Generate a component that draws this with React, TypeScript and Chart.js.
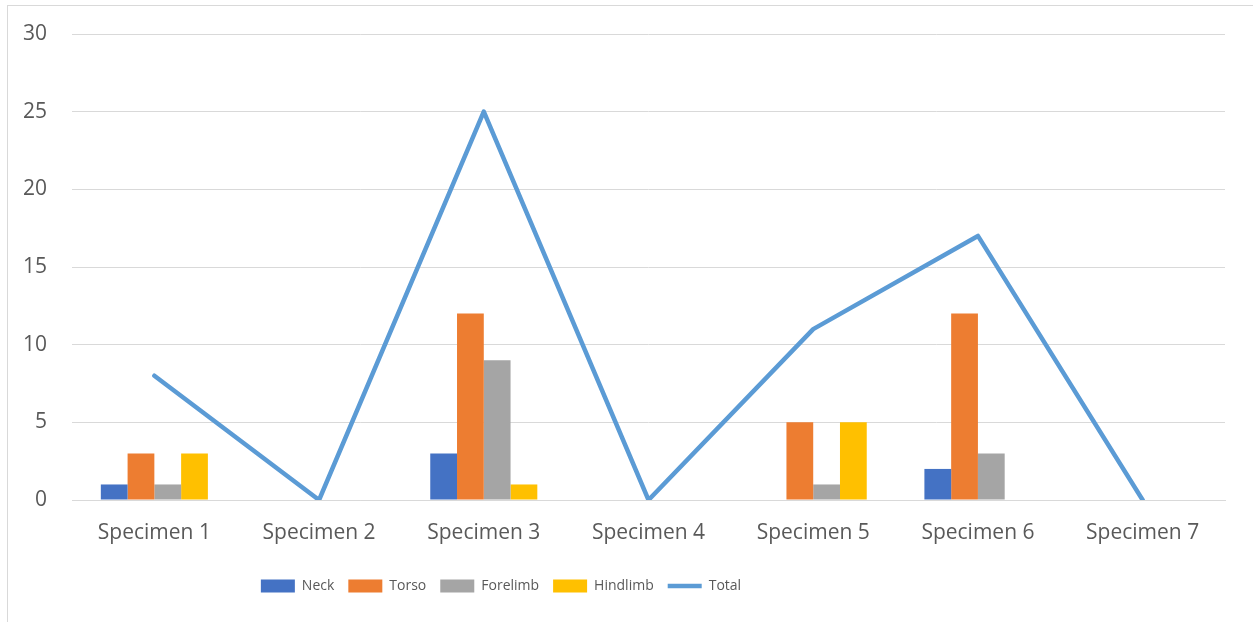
import React, { useEffect, useRef } from "react";
import { Chart, registerables } from "chart.js";

Chart.register(...registerables);

const categories = ["Specimen 1", "Specimen 2", "Specimen 3", "Specimen 4", "Specimen 5", "Specimen 6", "Specimen 7"];
const neck = [1, 0, 3, 0, 0, 2, 0];
const torso = [3, 0, 12, 0, 5, 12, 0];
const forelimb = [1, 0, 9, 0, 1, 3, 0];
const hindlimb = [3, 0, 1, 0, 5, 0, 0];
const total = [8, 0, 25, 0, 11, 17, 0];
const yMin = 0;
const yMax = 30;
const yStep = 5;

const FONT = "'Open Sans', 'Noto Sans', sans-serif";

const legendPos = {
  id: "legendPos",
  afterLayout(chart: any) {
    const l = chart.legend;
    if (!l) return;
    const P = 14;
    const F = 14;
    l.left = 0;
    l.right = 1002;
    l.width = 1002;
    l.top = 586 - P - F / 2;
    l.bottom = l.top + 38;
    l.height = 38;
  },
};

export default function App() {
  const ref = useRef<HTMLCanvasElement | null>(null);
  useEffect(() => {
    if (!ref.current) return;
    const bar = (label: string, data: number[], color: string) => ({
      type: "bar" as const,
      label,
      data,
      backgroundColor: color,
      borderWidth: 0,
      order: 1,
      pointStyle: "rect",
      categoryPercentage: 0.65,
      barPercentage: 1,
    });
    const chart = new Chart(ref.current, {
      type: "bar",
      data: {
        labels: categories,
        datasets: [
          bar("Neck", neck, "#4472c4"),
          bar("Torso", torso, "#ed7d31"),
          bar("Forelimb", forelimb, "#a5a5a5"),
          bar("Hindlimb", hindlimb, "#ffc000"),
          {
            type: "line" as const,
            label: "Total",
            data: total,
            borderColor: "#5b9bd5",
            backgroundColor: "#5b9bd5",
            borderWidth: 4.5,
            pointRadius: 0,
            pointHoverRadius: 0,
            tension: 0,
            borderCapStyle: "round",
            borderJoinStyle: "round",
            pointStyle: "line",
            order: 0,
          } as any,
        ],
      },
      options: {
        responsive: false,
        devicePixelRatio: 1,
        animation: false,
        layout: { padding: { left: 0, right: 28, top: 34, bottom: 24 } },
        plugins: {
          tooltip: { enabled: false },
          legend: {
            position: "bottom",
            align: "center",
            labels: {
              usePointStyle: true,
              pointStyleWidth: 34,
              boxHeight: 13,
              padding: 14,
              color: "#595959",
              font: { family: FONT, size: 14 },
              sort: (a: any, b: any) => a.datasetIndex - b.datasetIndex,
            },
          },
        },
        scales: {
          x: {
            grid: { display: false, drawTicks: false },
            border: { display: true, color: "#d9d9d9", width: 1 },
            ticks: { color: "#595959", font: { family: FONT, size: 21 }, padding: 20, maxRotation: 0 },
            afterFit: (s: any) => {
              s.height = 60;
            },
          },
          y: {
            min: yMin,
            max: yMax,
            grid: { color: "#d9d9d9", lineWidth: 1, drawTicks: false },
            border: { display: false },
            ticks: { stepSize: yStep, color: "#595959", font: { family: FONT, size: 21 }, padding: 25 },
            afterFit: (s: any) => {
              s.width = 72;
              s.paddingTop = 0;
              s.paddingBottom = 0;
            },
          },
        },
      } as any,
      plugins: [legendPos],
    });
    return () => chart.destroy();
  }, []);

  return (
    <div style={{ position: "fixed", left: 0, top: 0, width: 1253, height: 622, background: "#fff", overflow: "hidden" }}>
      <div
        style={{
          position: "absolute",
          left: 7,
          top: 5,
          right: 0,
          bottom: 0,
          borderLeft: "1px solid #d9d9d9",
          borderTop: "1px solid #d9d9d9",
        }}
      />
      <canvas ref={ref} width={1253} height={622} style={{ position: "absolute", left: 0, top: 0, width: 1253, height: 622 }} />
    </div>
  );
}
